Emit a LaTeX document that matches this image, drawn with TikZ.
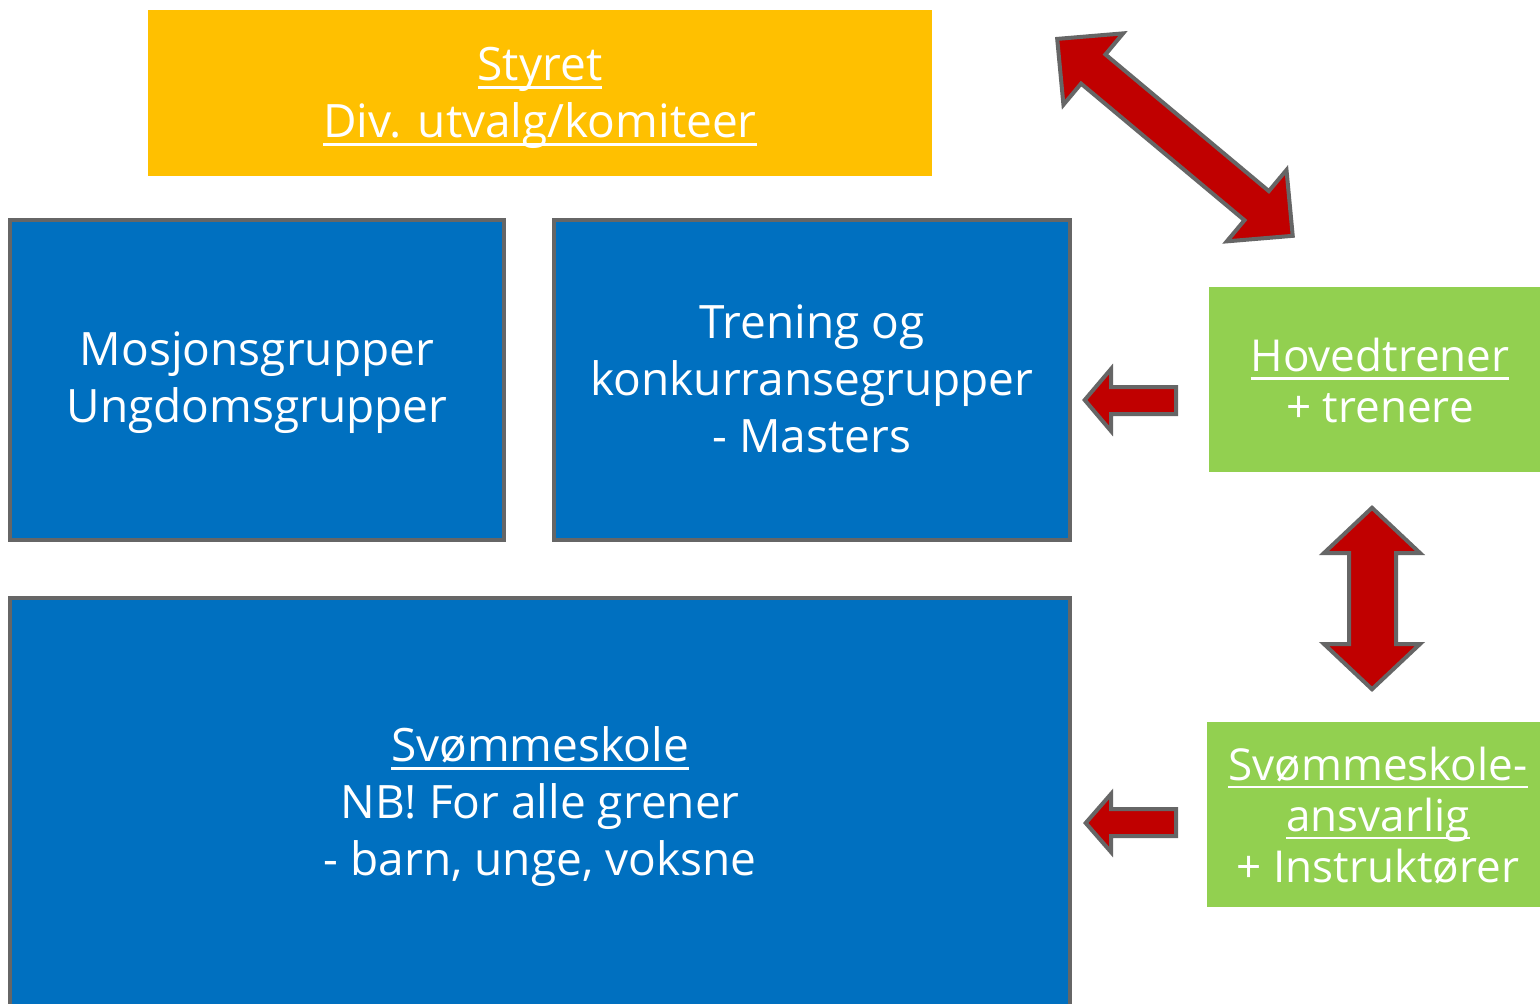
\documentclass[tikz,border=0pt]{standalone}
\usepackage{fontspec}
\setmainfont{Open Sans}
\newsavebox{\ulbox}
\newcommand{\ulx}[1]{\sbox{\ulbox}{#1}\leavevmode\rlap{\rule[-8pt]{\wd\ulbox}{2.5pt}}\usebox{\ulbox}}
\definecolor{boardyellow}{HTML}{FFC000}
\definecolor{groupblue}{HTML}{0070C0}
\definecolor{coachgreen}{HTML}{92D050}
\definecolor{arrowred}{HTML}{C00000}
\definecolor{bordergray}{HTML}{666666}
\begin{document}
\begin{tikzpicture}[x=1pt,y=-1pt,
  bigtext/.style={text=white, align=center, inner sep=0pt, font=\fontsize{46}{57}\selectfont},
  greentext/.style={bigtext, font=\fontsize{44}{51}\selectfont},
  yellowbox/.style={fill=boardyellow, inner sep=0pt},
  bluebox/.style={fill=groupblue, draw=bordergray, line width=4.5pt, inner sep=0pt},
  greenbox/.style={fill=coachgreen, inner sep=0pt},
  blockarrow/.style={fill=arrowred, draw=bordergray, line width=4pt, line join=miter}]
\clip (0,0) rectangle (1540,1004);
\fill[white] (0,0) rectangle (1540,1004);

% boxes
\node[yellowbox, minimum width=784, minimum height=166] (styret) at (540,93) {};
\node[bigtext, yshift=-5pt] (styrettxt) at (styret.center)
  {\ulx{Styret}\\\ulx{Div. utvalg/komiteer}};
\node[bluebox, minimum width=494, minimum height=320] (mosjon) at (257,380) {};
\node[bigtext, yshift=-3pt] (mosjontxt) at (mosjon.center)
  {Mosjonsgrupper\\Ungdomsgrupper};
\node[bluebox, minimum width=516, minimum height=320] (trening) at (812,380) {};
\node[bigtext, yshift=1pt] (treningtxt) at (trening.center)
  {Trening og\\konkurransegrupper\\- Masters};
\node[bluebox, minimum width=1060, minimum height=412] (skole) at (540,804) {};
\node[bigtext, yshift=-3pt] (skoletxt) at (skole.center)
  {\ulx{Svømmeskole}\\NB! For alle grener\\- barn, unge, voksne};
\node[greenbox, minimum width=331, minimum height=185] (hoved) at (1374.5,379.5) {};
\node[greentext, yshift=-1pt] (hovedtxt) at (1380,379.5)
  {\ulx{Hovedtrener}\\+ trenere};
\node[greenbox, minimum width=333, minimum height=185] (ansvar) at (1373.5,814.5) {};
\node[greentext, yshift=-1pt] (ansvartxt) at (1378,814.5)
  {\ulx{Svømmeskole-}\\\ulx{ansvarlig}\\+ Instruktører};

% diagonal double arrow (board <-> head coach)
\begin{scope}[shift={(1057.2,38.9)}, rotate=-39.9]
  \draw[blockarrow] (0,0) -- (47,-46.5) -- (47,-19) -- (260,-19) -- (260,-46.5)
    -- (307,0) -- (260,46.5) -- (260,19) -- (47,19) -- (47,46.5) -- cycle;
\end{scope}

% left arrow to Trening
\draw[blockarrow] (1084.7,400) -- (1111,369) -- (1111,387) -- (1176,387)
  -- (1176,414) -- (1111,414) -- (1111,431) -- cycle;

% left arrow to Svommeskole
\draw[blockarrow] (1085.7,823) -- (1111,794) -- (1111,809) -- (1176,809)
  -- (1176,836) -- (1111,836) -- (1111,852) -- cycle;

% vertical double arrow
\draw[blockarrow] (1372,507.8) -- (1420,553) -- (1396,553) -- (1396,644)
  -- (1420,644) -- (1372,689.2) -- (1324,644) -- (1349,644) -- (1349,553)
  -- (1324,553) -- cycle;
\end{tikzpicture}
\end{document}
